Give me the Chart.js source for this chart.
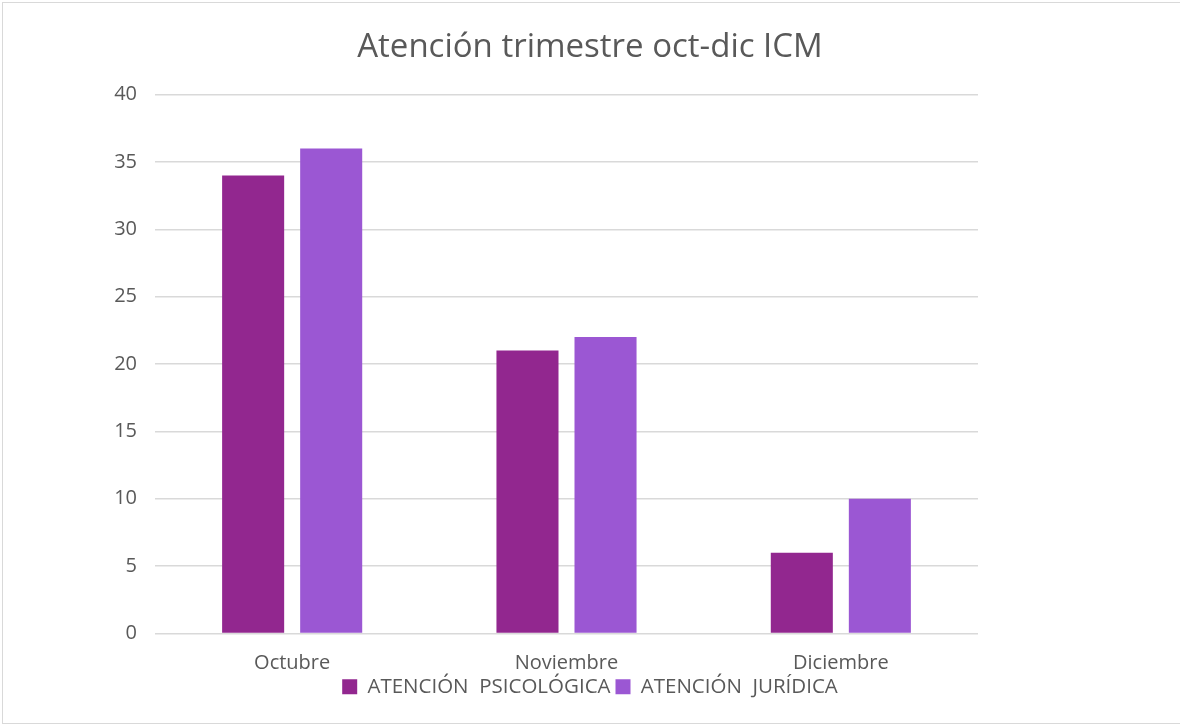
<!DOCTYPE html>
<html>
<head>
<meta charset="utf-8">
<script src="https://cdn.jsdelivr.net/npm/chart.js@4.4.1/dist/chart.umd.min.js"></script>
<style>
  html, body { margin: 0; padding: 0; background: #fff; overflow: hidden; }
  #wrap { position: relative; width: 1180px; height: 725px; overflow: hidden; }
  #frame { position: absolute; left: 2px; top: 2px; width: 1200px; height: 722px; border: 1px solid #d9d9d9; box-sizing: border-box; pointer-events: none; }
  canvas { position: absolute; left: 0; top: 0; }
</style>
</head>
<body>
<div id="wrap">
  <canvas id="atencionChart" width="1180" height="725"></canvas>
  <div id="frame"></div>
</div>
<script>
const months = ["Octubre", "Noviembre", "Diciembre"];
const psicologica = [34, 21, 6];
const juridica = [36, 22, 10];
const seriesNames = ["ATENCIÓN  PSICOLÓGICA", "ATENCIÓN  JURÍDICA"];
const yTicks = [0, 5, 10, 15, 20, 25, 30, 35, 40];

const textColor = "#595959";
const fontFamily = "'Open Sans', sans-serif";

Chart.defaults.color = textColor;
Chart.defaults.font.family = fontFamily;

function createAtencionChart() {
  const ctx = document.getElementById("atencionChart");
  if (!ctx) return;

  new Chart(ctx, {
    type: "bar",
    data: {
      labels: months,
      datasets: [
        {
          label: seriesNames[0],
          data: psicologica,
          backgroundColor: "#92278f",
          categoryPercentage: 0.569,
          barPercentage: 0.795
        },
        {
          label: seriesNames[1],
          data: juridica,
          backgroundColor: "#9b57d3",
          categoryPercentage: 0.569,
          barPercentage: 0.795
        }
      ]
    },
    options: {
      responsive: false,
      animation: false,
      layout: {
        padding: { top: 0, right: 0, bottom: 18, left: 0 }
      },
      plugins: {
        title: {
          display: true,
          text: "Atención trimestre oct-dic ICM",
          color: textColor,
          font: { family: fontFamily, size: 33, weight: "normal" },
          padding: { top: 28, bottom: 27 }
        },
        legend: {
          position: "bottom",
          align: "center",
          labels: {
            boxWidth: 15,
            boxHeight: 15,
            padding: 5,
            color: textColor,
            font: { family: fontFamily, size: 20.5 }
          }
        },
        tooltip: { enabled: false }
      },
      scales: {
        x: {
          grid: { display: false, drawTicks: false },
          border: { display: false },
          ticks: {
            padding: 18,
            font: { family: fontFamily, size: 20 }
          },
          afterFit: scale => { scale.height = 38; }
        },
        y: {
          min: 0,
          max: 40,
          afterBuildTicks: scale => {
            scale.ticks = yTicks.map(v => ({ value: v }));
          },
          grid: {
            color: "#d9d9d9",
            lineWidth: 1.5,
            drawTicks: false
          },
          border: { display: false },
          ticks: {
            padding: 18,
            font: { family: fontFamily, size: 20 }
          },
          afterFit: scale => { scale.width = 155; }
        },
        // empty right-hand axis that only reserves the white space on the right
        yRight: {
          position: "right",
          min: 0,
          max: 40,
          grid: { display: false, drawTicks: false },
          border: { display: false },
          ticks: { display: false },
          afterFit: scale => { scale.width = 202; }
        }
      }
    }
  });
}

document.addEventListener("DOMContentLoaded", createAtencionChart);
</script>
</body>
</html>
